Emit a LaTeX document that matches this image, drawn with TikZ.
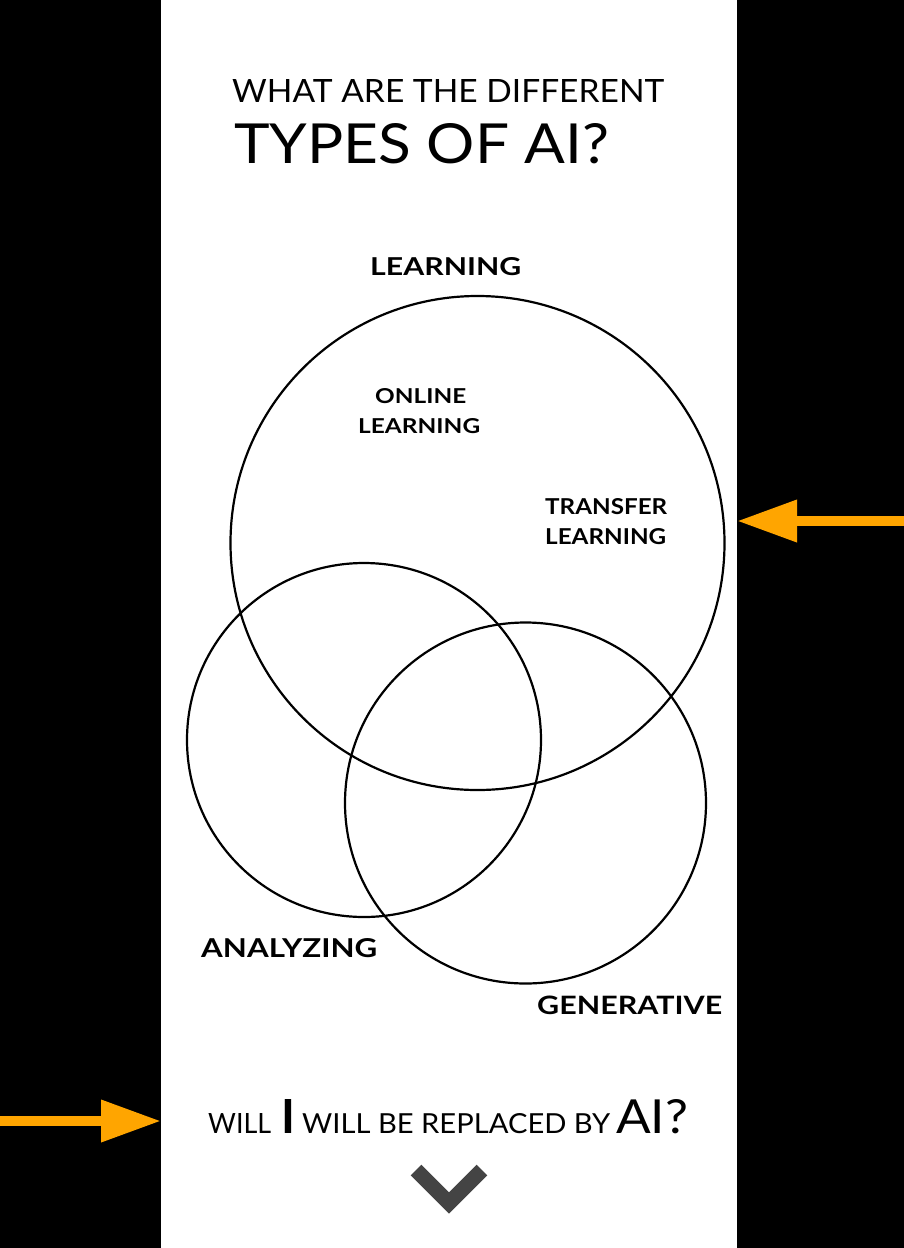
\documentclass[tikz,border=0pt]{standalone}
\usepackage{fontspec}
\setmainfont{Lato}
\usetikzlibrary{arrows.meta}
\definecolor{arrowc}{HTML}{FFA500}
\definecolor{chev}{HTML}{444444}
\newcommand{\fitbox}[3]{\resizebox{#1pt}{#2pt}{#3}}
\tikzset{
  ring/.style={draw=black, line width=2.2pt},
  txt/.style={inner sep=0pt, anchor=base west},
  lbl/.style={inner sep=0pt, anchor=base west, font=\fontsize{22}{22}\selectfont\bfseries},
  bigarrow/.style={-{Triangle[length=60pt,width=40pt]}, line width=10pt, draw=arrowc},
}
\begin{document}
\begin{tikzpicture}[x=1pt,y=-1pt]
\useasboundingbox (0,0) rectangle (904,1248);
\fill[black] (0,0) rectangle (904,1248);
\fill[white] (161,0) rectangle (737,1248);
% title
\node[txt, font=\fontsize{32}{32}\selectfont] (t1) at (232,102) {\fitbox{432}{23}{WHAT ARE THE DIFFERENT}};
\node[txt, font=\fontsize{55}{55}\selectfont] (t2) at (234,163) {\fitbox{375}{40}{TYPES OF AI?}};
% circles
\node[ring, circle, minimum size=494pt, inner sep=0pt] (learn) at (477.5,543) {};
\node[ring, circle, minimum size=354pt, inner sep=0pt] (anal) at (364,740) {};
\node[ring, circle, minimum size=361pt, inner sep=0pt] (gen) at (525.5,803) {};
% labels
\node[lbl] (lt) at (370,275) {\fitbox{151}{18}{LEARNING}};
\node[lbl] (ol1) at (375,403) {\fitbox{91}{15}{ONLINE}};
\node[lbl] (ol2) at (358,433) {\fitbox{122}{15}{LEARNING}};
\node[lbl] (tl1) at (545,514) {\fitbox{122}{16}{TRANSFER}};
\node[lbl] (tl2) at (545,544) {\fitbox{121}{16}{LEARNING}};
\node[lbl] (an) at (201,957) {\fitbox{176}{19}{ANALYZING}};
\node[lbl] (ge) at (537,1014) {\fitbox{185}{18.5}{GENERATIVE}};
% bottom question
\node[txt, font=\fontsize{28}{28}\selectfont] (q1) at (208,1133) {\fitbox{63}{20}{WILL}};
\node[inner sep=0pt, anchor=base, font=\fontsize{47}{47}\selectfont\bfseries] (q2) at (288,1133) {\resizebox{!}{34pt}{I}};
\node[txt, font=\fontsize{28}{28}\selectfont] (q3) at (302,1133) {\fitbox{308}{20}{WILL BE REPLACED BY}};
\node[txt, font=\fontsize{47}{47}\selectfont] (q4) at (616,1133) {\fitbox{72}{34}{AI?}};
% chevron
\draw[chev, line width=15pt, miter limit=10] (416,1170) -- (449,1203) -- (482,1170);
% arrows
\coordinate (ra) at (904,521);
\coordinate (rb) at (737,521);
\coordinate (la) at (0,1121);
\coordinate (lb) at (161,1121);
\draw[bigarrow] (ra) -- (rb);
\draw[bigarrow] (la) -- (lb);
\end{tikzpicture}
\end{document}
